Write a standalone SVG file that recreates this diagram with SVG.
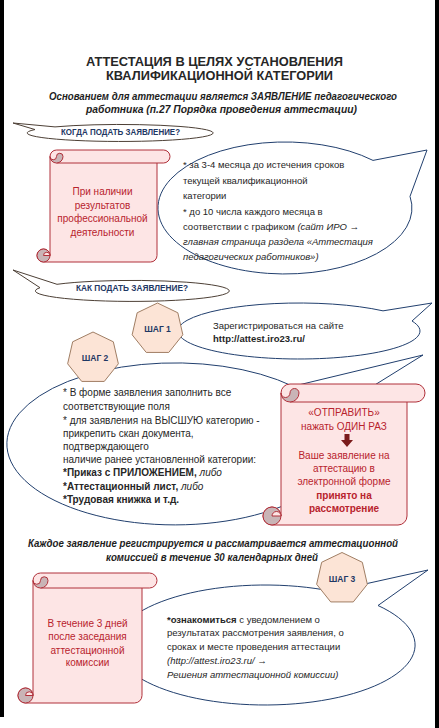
<svg xmlns="http://www.w3.org/2000/svg" width="439" height="728" viewBox="0 0 439 728">
<style>
text{font-family:"Liberation Sans",Arial,sans-serif;}
.title{font-size:13px;font-weight:bold;fill:#262626;text-anchor:middle;}
.sub{font-size:10.5px;font-weight:bold;font-style:italic;fill:#1e1e1e;text-anchor:middle;}
.callout{fill:#ffffff;stroke:#4d4036;stroke-width:1;}
.ctext{font-size:8.5px;font-weight:bold;fill:#1f3864;text-anchor:middle;}
.bubble{fill:#ffffff;stroke:#213f6e;stroke-width:1;}
.btext{font-size:9.5px;fill:#262626;}
.btext2{font-size:10px;fill:#262626;}
.hept{fill:#fce4d6;stroke:#a07e64;stroke-width:1;}
.htext{font-size:8.5px;font-weight:bold;fill:#1f3864;text-anchor:middle;}
.scroll{fill:#fde5e5;stroke:#b0303a;stroke-width:1;}
.curl{fill:#c9b4b6;stroke:#b0303a;stroke-width:1;}
.stext{font-size:10px;fill:#b8232d;text-anchor:middle;}
.b{font-weight:bold;}
.i{font-style:italic;}
</style>
<defs>
<polygon id="hept" points="0,-26 20.33,-16.21 25.35,5.79 11.28,23.43 -11.28,23.43 -25.35,5.79 -20.33,-16.21"/>
</defs>
<rect x="0" y="0" width="439" height="728" fill="#ffffff"/>
<rect x="0" y="0" width="4" height="717" fill="#000000"/>
<rect x="435" y="0" width="4" height="728" fill="#000000"/>

<g id="title">
<text class="title" x="214.5" y="66" textLength="257" lengthAdjust="spacingAndGlyphs">АТТЕСТАЦИЯ В ЦЕЛЯХ УСТАНОВЛЕНИЯ</text>
<text class="title" x="219.5" y="80" textLength="227" lengthAdjust="spacingAndGlyphs">КВАЛИФИКАЦИОННОЙ  КАТЕГОРИИ</text>
<text class="sub" x="223" y="100" textLength="348" lengthAdjust="spacingAndGlyphs">Основанием для аттестации является ЗАЯВЛЕНИЕ  педагогического</text>
<text class="sub" x="221.5" y="113" textLength="271" lengthAdjust="spacingAndGlyphs">работника (п.27 Порядка проведения  аттестации)</text>
</g>

<g id="connectors"></g>

<g id="when-callout">
<path class="callout" d="M 55,126.9 L 13,123 L 35,129.55 A 93 8.5 0 1 0 55,126.9 Z"/>
<text class="ctext" x="120.5" y="135" textLength="119" lengthAdjust="spacingAndGlyphs">КОГДА ПОДАТЬ ЗАЯВЛЕНИЕ?</text>
</g>

<g id="when-bubble">
<path class="bubble" d="M 410,196.4 L 427,150 L 373,160.4 A 127 66 0 1 0 410,196.4 Z"/>
<text class="btext" x="183" y="168">* за 3-4 месяца до истечения сроков</text>
<text class="btext" x="183" y="184">текущей квалификационной</text>
<text class="btext" x="183" y="199">категории</text>
<text class="btext" x="183" y="215">* до 10 числа каждого месяца  в</text>
<text class="btext" x="183" y="230">соответствии с  графиком <tspan class="i">(сайт ИРО →</tspan></text>
<text class="btext i" x="183" y="245">главная страница раздела «Аттестация</text>
<text class="btext i" x="183" y="260">педагогических работников»)</text>
</g>

<g id="scroll-results">
<path class="scroll" d="M 50,156.5 A 6.5 6.5 0 0 1 56.5,150 L 163.5,150 A 6.5 6.5 0 0 1 163.5,163 L 157,163 L 157,255.5 A 6.5 6.5 0 0 1 150.5,262 L 43.5,262 A 6.5 6.5 0 1 1 50,255.5 Z"/>
<path class="scroll" fill="none" d="M 56.5,163 H 157"/>
<path class="curl" d="M 50,156.5 A 6.5 6.5 0 0 0 63,156.5 A 3.25 3.25 0 0 0 56.5,156.5 A 3.25 3.25 0 0 1 50,156.5 Z"/>
<circle class="curl" cx="43.5" cy="255.5" r="6.5"/>
<path class="scroll" d="M 43.5,255.5 A 3.25 3.25 0 0 1 50,255.5 Z"/>
<text class="stext" x="102.5" y="195">При наличии</text>
<text class="stext" x="102.5" y="208.5">результатов</text>
<text class="stext" x="102.5" y="222">профессиональной</text>
<text class="stext" x="102.5" y="235.5">деятельности</text>
</g>

<g id="how-callout">
<path class="callout" d="M 57,284.3 L 13,270 L 40,287.7 A 97 10.5 0 1 0 57,284.3 Z"/>
<text class="ctext" x="132" y="290.5" textLength="112" lengthAdjust="spacingAndGlyphs">КАК ПОДАТЬ ЗАЯВЛЕНИЕ?</text>
</g>

<g id="step1-bubble">
<path class="bubble" d="M 412,321 L 432,303 L 383,310.85 A 121 28 0 1 0 412,321 Z"/>
<text class="btext" x="213" y="328.5">Зарегистрироваться  на сайте</text>
<text class="btext b" x="213" y="342">http://attest.iro23.ru/</text>
</g>

<g id="step1">
<use href="#hept" class="hept" x="157.5" y="329"/>
<text class="htext" x="157.5" y="332">ШАГ 1</text>
</g>

<g id="step2-bubble">
<path class="bubble" d="M 330,412.8 L 423,355 L 293,386.3 A 168 81 0 1 0 330,412.8 Z"/>
<text class="btext2" x="63" y="396">* В форме заявления заполнить все</text>
<text class="btext2" x="63" y="410">соответствующие поля</text>
<text class="btext2" x="63" y="423.5">* для заявления на ВЫСШУЮ категорию -</text>
<text class="btext2" x="63" y="437">прикрепить скан документа,</text>
<text class="btext2" x="63" y="450">подтверждающего</text>
<text class="btext2" x="63" y="463">наличие ранее установленной категории:</text>
<text class="btext2" x="63" y="476"><tspan class="b">*Приказ с ПРИЛОЖЕНИЕМ,</tspan>  <tspan class="i">либо</tspan></text>
<text class="btext2" x="63" y="489.5"><tspan class="b">*Аттестационный лист,</tspan> <tspan class="i">либо</tspan></text>
<text class="btext2 b" x="63" y="503">*Трудовая книжка  и т.д.</text>
</g>

<g id="step2">
<use href="#hept" class="hept" x="93" y="358"/>
<text class="htext" x="95" y="361">ШАГ 2</text>
</g>

<g id="scroll-send">
<path class="scroll" d="M 281,393 A 9 9 0 0 1 290,384 L 416,384 A 9 9 0 0 1 416,402 L 407,402 L 407,516 A 9 9 0 0 1 398,525 L 272,525 A 9 9 0 1 1 281,516 Z"/>
<path class="scroll" fill="none" d="M 290,402 H 407"/>
<path class="curl" d="M 281,393 A 9 9 0 0 0 299,393 A 4.5 4.5 0 0 0 290,393 A 4.5 4.5 0 0 1 281,393 Z"/>
<circle class="curl" cx="272" cy="516" r="9"/>
<path class="scroll" d="M 272,516 A 4.5 4.5 0 0 1 281,516 Z"/>
<text class="stext" x="344" y="416">«ОТПРАВИТЬ»</text>
<text class="stext" x="344" y="429.5">нажать ОДИН РАЗ</text>
<path d="M 344.5,434 H 349.5 V 440 H 353 L 347,447 L 341,440 H 344.5 Z" fill="#7a1b1b"/>
<text class="stext" x="344" y="458.5">Ваше заявление на</text>
<text class="stext" x="344" y="472">аттестацию в</text>
<text class="stext" x="344" y="485">электронной форме</text>
<text class="stext b" x="344" y="498.5">принято на</text>
<text class="stext b" x="344" y="512">рассмотрение</text>
</g>

<g id="note">
<text class="sub" x="213" y="547" textLength="370" lengthAdjust="spacingAndGlyphs">Каждое заявление  регистрируется и  рассматривается аттестационной</text>
<text class="sub" x="212" y="561" textLength="212" lengthAdjust="spacingAndGlyphs">комиссией в течение  30 календарных  дней</text>
</g>

<g id="step3-bubble">
<path class="bubble" d="M 378,605.5 L 428,570 L 332,591.3 A 150 60 0 1 0 378,605.5 Z"/>
<text class="btext" x="167" y="623"><tspan class="b">*ознакомиться</tspan> с уведомлением о</text>
<text class="btext" x="167" y="636">результатах рассмотрения заявления, о</text>
<text class="btext" x="167" y="649.5">сроках и месте  проведения аттестации</text>
<text class="btext i" x="167" y="663.5">(http://attest.iro23.ru/ →</text>
<text class="btext i" x="167" y="677.5">Решения аттестационной комиссии)</text>
</g>

<g id="step3">
<use href="#hept" class="hept" x="342" y="578.5"/>
<text class="htext" x="342" y="581.5">ШАГ 3</text>
</g>

<g id="scroll-days">
<path class="scroll" d="M 33,580.5 A 7.5 7.5 0 0 1 40.5,573 L 149.5,573 A 7.5 7.5 0 0 1 149.5,588 L 142,588 L 142,695.5 A 7.5 7.5 0 0 1 134.5,703 L 25.5,703 A 7.5 7.5 0 1 1 33,695.5 Z"/>
<path class="scroll" fill="none" d="M 40.5,588 H 142"/>
<path class="curl" d="M 33,580.5 A 7.5 7.5 0 0 0 48,580.5 A 3.75 3.75 0 0 0 40.5,580.5 A 3.75 3.75 0 0 1 33,580.5 Z"/>
<circle class="curl" cx="25.5" cy="695.5" r="7.5"/>
<path class="scroll" d="M 25.5,695.5 A 3.75 3.75 0 0 1 33,695.5 Z"/>
<text class="stext" x="87.5" y="627">В течение 3 дней</text>
<text class="stext" x="87.5" y="640">после заседания</text>
<text class="stext" x="87.5" y="653.5">аттестационной</text>
<text class="stext" x="87.5" y="666">комиссии</text>
</g>
</svg>
